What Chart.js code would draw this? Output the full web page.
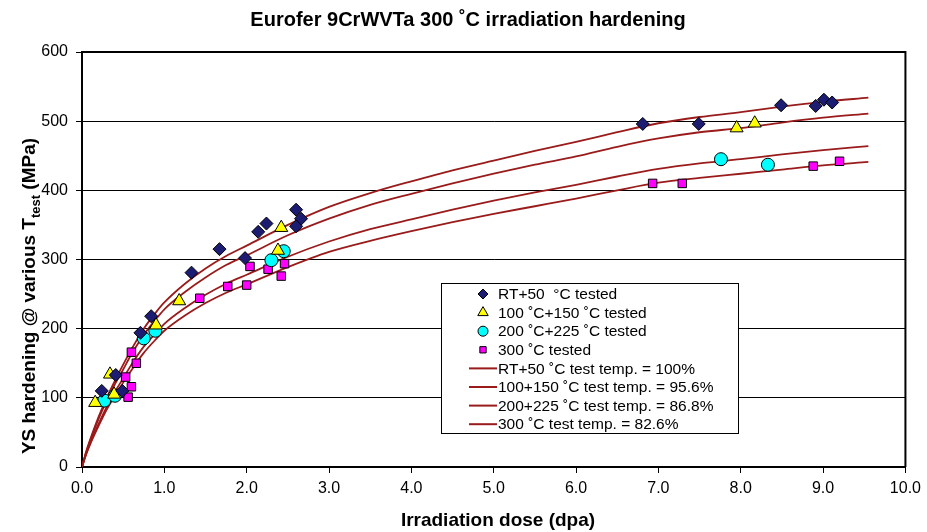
<!DOCTYPE html>
<html>
<head>
<meta charset="utf-8">
<script src="https://cdn.jsdelivr.net/npm/chart.js@4.4.0/dist/chart.umd.min.js"></script>
<style>
  html, body { margin: 0; padding: 0; background: #fff; }
  #wrap { width: 927px; height: 532px; }
</style>
</head>
<body>
<div id="wrap"><canvas id="chart" width="927" height="532"></canvas></div>
<script>
// Datos medidos (dpa, MPa)
const rtDose   = [0.24, 0.41, 0.49, 0.71, 0.84, 1.33, 1.67, 1.98, 2.14, 2.24, 2.60, 2.66, 2.60, 6.81, 7.49, 8.49, 8.91, 9.01, 9.11];
const rtHard   = [110, 133, 110, 194, 218, 281, 315, 302, 340, 352, 372, 359, 348, 496, 496, 523, 522, 531, 527];

const t100Dose = [0.16, 0.34, 0.39, 0.90, 1.18, 2.38, 2.42, 7.95, 8.17];
const t100Hard = [93, 134, 105, 205, 240, 313, 346, 490, 497];

const t200Dose = [0.27, 0.40, 0.75, 0.89, 2.30, 2.45, 7.76, 8.33];
const t200Hard = [96, 103, 186, 197, 299, 312, 445, 437];

const t300Dose = [0.56, 0.60, 0.53, 0.60, 0.66, 1.43, 1.77, 2.00, 2.04, 2.26, 2.42, 2.46, 6.93, 7.29, 8.88, 9.20];
const t300Hard = [101, 116, 130, 166, 150, 244, 261, 263, 290, 286, 276, 294, 410, 410, 435, 442];

// Curvas de ajuste
const fitDose = [0, 0.05, 0.1, 0.2, 0.3, 0.4, 0.5, 0.6, 0.75, 0.9, 1, 1.25, 1.5, 1.75, 2, 2.5, 3, 3.5, 4, 4.5, 5, 5.5, 6, 6.5, 7, 7.5, 8, 8.5, 9, 9.55];
const fitRT    = [0, 22, 40, 72, 100, 125, 148, 170, 200, 224, 238, 265, 287, 305, 320, 350, 376, 396, 413, 429, 443, 457, 470, 484, 497, 506, 513, 521, 528, 534];
const fit100   = [0, 21, 38, 69, 96, 120, 141, 163, 191, 214, 228, 253, 274, 292, 306, 335, 359, 379, 395, 410, 424, 437, 449, 463, 475, 484, 490, 498, 505, 511];
const fit200   = [0, 19, 35, 62, 87, 109, 128, 148, 174, 194, 207, 230, 249, 265, 278, 304, 326, 344, 358, 372, 385, 397, 408, 420, 431, 439, 445, 452, 458, 464];
const fit300   = [0, 18, 33, 59, 83, 103, 122, 140, 165, 185, 197, 219, 237, 252, 264, 289, 311, 327, 341, 354, 366, 377, 388, 400, 411, 418, 424, 430, 436, 441];

const xTicks = [0, 1, 2, 3, 4, 5, 6, 7, 8, 9, 10];
const yTicks = [0, 100, 200, 300, 400, 500, 600];

const FONT = "'Liberation Sans', Arial, sans-serif";
const CURVE = '#9a1b1b';

function pts(xs, ys) {
  return xs.map((x, i) => ({ x: x, y: ys[i] }));
}

function markerSet(label, xs, ys, style, fill, r) {
  return {
    label: label,
    data: pts(xs, ys),
    pointStyle: style,
    pointRadius: r,
    pointBackgroundColor: fill,
    pointBorderColor: '#000',
    pointBorderWidth: 1,
    backgroundColor: fill,
    borderColor: '#000',
    showLine: false
  };
}

function curveSet(label, ys) {
  return {
    label: label,
    data: pts(fitDose, ys),
    showLine: true,
    borderColor: CURVE,
    borderWidth: 1.8,
    pointRadius: 0,
    cubicInterpolationMode: 'monotone',
    fill: false
  };
}

// dibuja un marcador como los del gráfico
function drawMarker(ctx, ds, x, y) {
  const r = ds.pointRadius;
  ctx.save();
  ctx.fillStyle = ds.pointBackgroundColor;
  ctx.strokeStyle = '#000';
  ctx.lineWidth = 1;
  ctx.beginPath();
  if (ds.pointStyle === 'rectRot') {
    ctx.moveTo(x, y - r); ctx.lineTo(x + r, y); ctx.lineTo(x, y + r); ctx.lineTo(x - r, y);
  } else if (ds.pointStyle === 'triangle') {
    ctx.moveTo(x, y - r); ctx.lineTo(x + r * 0.87, y + r * 0.5); ctx.lineTo(x - r * 0.87, y + r * 0.5);
  } else if (ds.pointStyle === 'circle') {
    ctx.arc(x, y, r, 0, Math.PI * 2);
  } else {
    const s = r * 0.7;
    ctx.rect(x - s, y - s, 2 * s, 2 * s);
  }
  ctx.closePath();
  ctx.fill();
  ctx.stroke();
  ctx.restore();
}

const decorPlugin = {
  id: 'decor',
  afterDraw(chart) {
    const ctx = chart.ctx;
    const a = chart.chartArea;
    ctx.save();

    // marco superior y derecho
    ctx.strokeStyle = '#000';
    ctx.lineWidth = 2;
    ctx.beginPath();
    ctx.moveTo(a.left, a.top); ctx.lineTo(a.right, a.top); ctx.lineTo(a.right, a.bottom);
    ctx.stroke();

    // título
    ctx.fillStyle = '#000';
    ctx.textAlign = 'center';
    ctx.textBaseline = 'middle';
    ctx.font = 'bold 20px ' + FONT;
    ctx.fillText('Eurofer 9CrWVTa 300 \u02DAC irradiation hardening', 468, 20);

    // título eje x
    ctx.font = 'bold 19px ' + FONT;
    ctx.fillText('Irradiation dose (dpa)', 498, 521);

    // título eje y con subíndice
    ctx.save();
    ctx.translate(30, 296);
    ctx.rotate(-Math.PI / 2);
    const p1 = 'YS hardening @ various T';
    const sub = 'test';
    const p2 = ' (MPa)';
    ctx.font = 'bold 19px ' + FONT;
    const w1 = ctx.measureText(p1).width;
    const w3 = ctx.measureText(p2).width;
    ctx.font = 'bold 13px ' + FONT;
    const w2 = ctx.measureText(sub).width;
    let x0 = -(w1 + w2 + w3) / 2;
    ctx.textAlign = 'left';
    ctx.font = 'bold 19px ' + FONT;
    ctx.fillText(p1, x0, 0);
    ctx.font = 'bold 13px ' + FONT;
    ctx.fillText(sub, x0 + w1, 6);
    ctx.font = 'bold 19px ' + FONT;
    ctx.fillText(p2, x0 + w1 + w2, 0);
    ctx.restore();

    // leyenda
    const bx = 441, by = 283, bw = 297, bh = 150;
    ctx.fillStyle = '#fff';
    ctx.fillRect(bx, by, bw, bh);
    ctx.strokeStyle = '#000';
    ctx.lineWidth = 1;
    ctx.strokeRect(bx + 0.5, by + 0.5, bw, bh);

    ctx.font = '15.5px ' + FONT;
    ctx.textAlign = 'left';
    ctx.textBaseline = 'middle';
    chart.data.datasets.forEach((ds, i) => {
      const y = 294 + i * 18.6;
      if (ds.showLine) {
        ctx.strokeStyle = ds.borderColor;
        ctx.lineWidth = 2;
        ctx.beginPath();
        ctx.moveTo(469, y); ctx.lineTo(497, y);
        ctx.stroke();
      } else {
        drawMarker(ctx, Object.assign({}, ds, { pointRadius: ds.pointRadius - 1.5 }), 483, y);
      }
      ctx.fillStyle = '#000';
      ctx.fillText(ds.label, 498, y + 1);
    });
    ctx.restore();
  }
};

new Chart(document.getElementById('chart').getContext('2d'), {
  type: 'scatter',
  data: {
    datasets: [
      markerSet('RT+50  \u00B0C tested', rtDose, rtHard, 'rectRot', '#1c1c72', 6.5),
      markerSet('100 \u02DAC+150 \u02DAC tested', t100Dose, t100Hard, 'triangle', '#ffff00', 7.5),
      markerSet('200 \u02DAC+225 \u02DAC tested', t200Dose, t200Hard, 'circle', '#00ffff', 6.5),
      markerSet('300 \u02DAC tested', t300Dose, t300Hard, 'rect', '#ff00ff', 6),
      curveSet('RT+50 \u02DAC test temp. = 100%', fitRT),
      curveSet('100+150 \u02DAC test temp. = 95.6%', fit100),
      curveSet('200+225 \u02DAC test temp. = 86.8%', fit200),
      curveSet('300 \u02DAC test temp. = 82.6%', fit300)
    ]
  },
  options: {
    responsive: false,
    animation: false,
    devicePixelRatio: 1,
    layout: { padding: { left: 0, right: 17, top: 52, bottom: 0 } },
    plugins: {
      legend: { display: false },
      title: { display: false },
      tooltip: { enabled: false }
    },
    scales: {
      x: {
        type: 'linear',
        min: 0,
        max: 10,
        afterBuildTicks: (s) => { s.ticks = xTicks.map(v => ({ value: v })); },
        afterFit: (s) => { s.height = 65; },
        border: { color: '#000', width: 2 },
        grid: { drawOnChartArea: false, drawTicks: true, tickLength: 6, color: '#000', lineWidth: 1 },
        ticks: {
          padding: 6,
          color: '#000',
          font: { family: FONT, size: 16 },
          callback: (v) => v.toFixed(1)
        }
      },
      y: {
        min: 0,
        max: 600,
        afterBuildTicks: (s) => { s.ticks = yTicks.map(v => ({ value: v })); },
        afterFit: (s) => { s.width = 82; },
        border: { color: '#000', width: 2 },
        grid: { drawTicks: true, tickLength: 6, color: '#000', lineWidth: 1 },
        ticks: {
          padding: 8,
          color: '#000',
          font: { family: FONT, size: 16 }
        }
      }
    }
  },
  plugins: [decorPlugin]
});
</script>
</body>
</html>
